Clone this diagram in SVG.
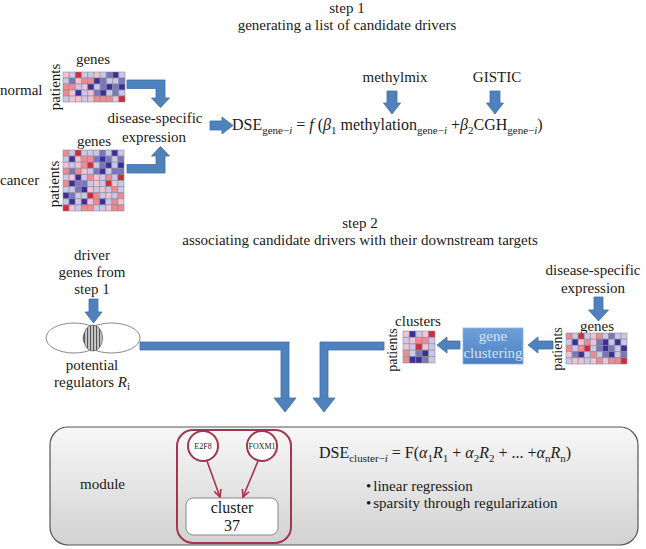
<svg xmlns="http://www.w3.org/2000/svg" width="646" height="549" viewBox="0 0 646 549">
<style>
text{font-family:"Liberation Serif","Times New Roman",serif;fill:#1a1a1a;font-size:15px}
.m{text-anchor:middle}
.eq{font-size:16px}
.sb{font-size:11px}
.it{font-style:italic}
.pt{font-size:14px}
.c0{fill:#3b2e96}.c1{fill:#7876bd}.c2{fill:#cac8e6}.c3{fill:#f3c3d3}.c4{fill:#ee8a90}.c5{fill:#d42a3a}
.hm rect{stroke:#8a8a9a;stroke-width:0.6;vector-effect:non-scaling-stroke}
.ba{fill:#4f81bd;stroke:#3f6fa6;stroke-width:0.8}
.ven{fill:#fff;stroke:#8a8a8a;stroke-width:1}
.mr{stroke:#a3364f;stroke-width:2}
</style>
<defs>
<linearGradient id="gBox" x1="0" y1="0" x2="0" y2="1">
<stop offset="0" stop-color="#f7f7f7"/><stop offset="1" stop-color="#d2d2d2"/>
</linearGradient>
<linearGradient id="gClu" x1="0" y1="0" x2="0" y2="1">
<stop offset="0" stop-color="#6fa0d9"/><stop offset="1" stop-color="#4c80c2"/>
</linearGradient>
<pattern id="stripes" width="3" height="4" patternUnits="userSpaceOnUse">
<rect width="3" height="4" fill="#c8c8c8"/><rect width="1.1" height="4" fill="#555"/>
</pattern>
<marker id="mh" viewBox="0 0 10 10" refX="9" refY="5" markerWidth="9" markerHeight="9" markerUnits="userSpaceOnUse" orient="auto">
<path d="M1,1 L9,5 L1,9" fill="none" stroke="#a3364f" stroke-width="1.8"/>
</marker>
</defs>

<g id="title1">
<text class="m" x="347" y="13">step 1</text>
<text class="m" x="347" y="30">generating a list of candidate drivers</text>
</g>

<g id="normal">
<text x="0" y="95">normal</text>
<text class="m" x="93" y="64">genes</text>
<text class="m" transform="translate(60,87) rotate(-90)">patients</text>
<g class="hm" transform="translate(63,72) scale(6.2,6)">
<rect class="c3" x="0" y="0" width="1" height="1"/><rect class="c2" x="1" y="0" width="1" height="1"/><rect class="c5" x="2" y="0" width="1" height="1"/><rect class="c2" x="3" y="0" width="1" height="1"/><rect class="c2" x="4" y="0" width="1" height="1"/><rect class="c3" x="5" y="0" width="1" height="1"/><rect class="c2" x="6" y="0" width="1" height="1"/><rect class="c1" x="7" y="0" width="1" height="1"/><rect class="c0" x="8" y="0" width="1" height="1"/><rect class="c2" x="9" y="0" width="1" height="1"/>
<rect class="c2" x="0" y="1" width="1" height="1"/><rect class="c1" x="1" y="1" width="1" height="1"/><rect class="c3" x="2" y="1" width="1" height="1"/><rect class="c4" x="3" y="1" width="1" height="1"/><rect class="c4" x="4" y="1" width="1" height="1"/><rect class="c0" x="5" y="1" width="1" height="1"/><rect class="c1" x="6" y="1" width="1" height="1"/><rect class="c2" x="7" y="1" width="1" height="1"/><rect class="c2" x="8" y="1" width="1" height="1"/><rect class="c1" x="9" y="1" width="1" height="1"/>
<rect class="c4" x="0" y="2" width="1" height="1"/><rect class="c4" x="1" y="2" width="1" height="1"/><rect class="c2" x="2" y="2" width="1" height="1"/><rect class="c3" x="3" y="2" width="1" height="1"/><rect class="c0" x="4" y="2" width="1" height="1"/><rect class="c2" x="5" y="2" width="1" height="1"/><rect class="c1" x="6" y="2" width="1" height="1"/><rect class="c0" x="7" y="2" width="1" height="1"/><rect class="c1" x="8" y="2" width="1" height="1"/><rect class="c0" x="9" y="2" width="1" height="1"/>
<rect class="c4" x="0" y="3" width="1" height="1"/><rect class="c3" x="1" y="3" width="1" height="1"/><rect class="c0" x="2" y="3" width="1" height="1"/><rect class="c2" x="3" y="3" width="1" height="1"/><rect class="c3" x="4" y="3" width="1" height="1"/><rect class="c1" x="5" y="3" width="1" height="1"/><rect class="c0" x="6" y="3" width="1" height="1"/><rect class="c2" x="7" y="3" width="1" height="1"/><rect class="c1" x="8" y="3" width="1" height="1"/><rect class="c2" x="9" y="3" width="1" height="1"/>
<rect class="c2" x="0" y="4" width="1" height="1"/><rect class="c3" x="1" y="4" width="1" height="1"/><rect class="c3" x="2" y="4" width="1" height="1"/><rect class="c2" x="3" y="4" width="1" height="1"/><rect class="c3" x="4" y="4" width="1" height="1"/><rect class="c4" x="5" y="4" width="1" height="1"/><rect class="c4" x="6" y="4" width="1" height="1"/><rect class="c4" x="7" y="4" width="1" height="1"/><rect class="c3" x="8" y="4" width="1" height="1"/><rect class="c5" x="9" y="4" width="1" height="1"/>
</g>
</g>

<g id="cancer">
<text x="0" y="185">cancer</text>
<text class="m" x="94" y="146">genes</text>
<text class="m" transform="translate(59,184) rotate(-90)">patients</text>
<g class="hm" transform="translate(63,150) scale(6.1,6.1)">
<rect class="c4" x="0" y="0" width="1" height="1"/><rect class="c2" x="1" y="0" width="1" height="1"/><rect class="c5" x="2" y="0" width="1" height="1"/><rect class="c2" x="3" y="0" width="1" height="1"/><rect class="c2" x="4" y="0" width="1" height="1"/><rect class="c2" x="5" y="0" width="1" height="1"/><rect class="c1" x="6" y="0" width="1" height="1"/><rect class="c2" x="7" y="0" width="1" height="1"/><rect class="c0" x="8" y="0" width="1" height="1"/><rect class="c2" x="9" y="0" width="1" height="1"/>
<rect class="c2" x="0" y="1" width="1" height="1"/><rect class="c0" x="1" y="1" width="1" height="1"/><rect class="c3" x="2" y="1" width="1" height="1"/><rect class="c4" x="3" y="1" width="1" height="1"/><rect class="c4" x="4" y="1" width="1" height="1"/><rect class="c1" x="5" y="1" width="1" height="1"/><rect class="c0" x="6" y="1" width="1" height="1"/><rect class="c1" x="7" y="1" width="1" height="1"/><rect class="c2" x="8" y="1" width="1" height="1"/><rect class="c1" x="9" y="1" width="1" height="1"/>
<rect class="c3" x="0" y="2" width="1" height="1"/><rect class="c2" x="1" y="2" width="1" height="1"/><rect class="c3" x="2" y="2" width="1" height="1"/><rect class="c4" x="3" y="2" width="1" height="1"/><rect class="c5" x="4" y="2" width="1" height="1"/><rect class="c2" x="5" y="2" width="1" height="1"/><rect class="c1" x="6" y="2" width="1" height="1"/><rect class="c0" x="7" y="2" width="1" height="1"/><rect class="c2" x="8" y="2" width="1" height="1"/><rect class="c0" x="9" y="2" width="1" height="1"/>
<rect class="c4" x="0" y="3" width="1" height="1"/><rect class="c1" x="1" y="3" width="1" height="1"/><rect class="c4" x="2" y="3" width="1" height="1"/><rect class="c3" x="3" y="3" width="1" height="1"/><rect class="c2" x="4" y="3" width="1" height="1"/><rect class="c1" x="5" y="3" width="1" height="1"/><rect class="c0" x="6" y="3" width="1" height="1"/><rect class="c2" x="7" y="3" width="1" height="1"/><rect class="c1" x="8" y="3" width="1" height="1"/><rect class="c1" x="9" y="3" width="1" height="1"/>
<rect class="c2" x="0" y="4" width="1" height="1"/><rect class="c3" x="1" y="4" width="1" height="1"/><rect class="c0" x="2" y="4" width="1" height="1"/><rect class="c2" x="3" y="4" width="1" height="1"/><rect class="c4" x="4" y="4" width="1" height="1"/><rect class="c3" x="5" y="4" width="1" height="1"/><rect class="c2" x="6" y="4" width="1" height="1"/><rect class="c4" x="7" y="4" width="1" height="1"/><rect class="c2" x="8" y="4" width="1" height="1"/><rect class="c5" x="9" y="4" width="1" height="1"/>
<rect class="c4" x="0" y="5" width="1" height="1"/><rect class="c0" x="1" y="5" width="1" height="1"/><rect class="c1" x="2" y="5" width="1" height="1"/><rect class="c1" x="3" y="5" width="1" height="1"/><rect class="c2" x="4" y="5" width="1" height="1"/><rect class="c3" x="5" y="5" width="1" height="1"/><rect class="c2" x="6" y="5" width="1" height="1"/><rect class="c5" x="7" y="5" width="1" height="1"/><rect class="c3" x="8" y="5" width="1" height="1"/><rect class="c2" x="9" y="5" width="1" height="1"/>
<rect class="c2" x="0" y="6" width="1" height="1"/><rect class="c2" x="1" y="6" width="1" height="1"/><rect class="c1" x="2" y="6" width="1" height="1"/><rect class="c0" x="3" y="6" width="1" height="1"/><rect class="c3" x="4" y="6" width="1" height="1"/><rect class="c2" x="5" y="6" width="1" height="1"/><rect class="c3" x="6" y="6" width="1" height="1"/><rect class="c2" x="7" y="6" width="1" height="1"/><rect class="c4" x="8" y="6" width="1" height="1"/><rect class="c2" x="9" y="6" width="1" height="1"/>
<rect class="c0" x="0" y="7" width="1" height="1"/><rect class="c1" x="1" y="7" width="1" height="1"/><rect class="c2" x="2" y="7" width="1" height="1"/><rect class="c2" x="3" y="7" width="1" height="1"/><rect class="c5" x="4" y="7" width="1" height="1"/><rect class="c4" x="5" y="7" width="1" height="1"/><rect class="c2" x="6" y="7" width="1" height="1"/><rect class="c3" x="7" y="7" width="1" height="1"/><rect class="c2" x="8" y="7" width="1" height="1"/><rect class="c4" x="9" y="7" width="1" height="1"/>
<rect class="c2" x="0" y="8" width="1" height="1"/><rect class="c0" x="1" y="8" width="1" height="1"/><rect class="c2" x="2" y="8" width="1" height="1"/><rect class="c0" x="3" y="8" width="1" height="1"/><rect class="c3" x="4" y="8" width="1" height="1"/><rect class="c4" x="5" y="8" width="1" height="1"/><rect class="c0" x="6" y="8" width="1" height="1"/><rect class="c2" x="7" y="8" width="1" height="1"/><rect class="c4" x="8" y="8" width="1" height="1"/><rect class="c3" x="9" y="8" width="1" height="1"/>
<rect class="c5" x="0" y="9" width="1" height="1"/><rect class="c3" x="1" y="9" width="1" height="1"/><rect class="c2" x="2" y="9" width="1" height="1"/><rect class="c4" x="3" y="9" width="1" height="1"/><rect class="c4" x="4" y="9" width="1" height="1"/><rect class="c2" x="5" y="9" width="1" height="1"/><rect class="c2" x="6" y="9" width="1" height="1"/><rect class="c3" x="7" y="9" width="1" height="1"/><rect class="c4" x="8" y="9" width="1" height="1"/><rect class="c4" x="9" y="9" width="1" height="1"/>
</g>
</g>

<g id="dse-step1">
<text class="m" x="155" y="123">disease-specific</text>
<text class="m" x="154" y="142">expression</text>
</g>

<g id="methylmix"><text class="m" x="395" y="82">methylmix</text></g>
<g id="gistic"><text class="m" x="497" y="82">GISTIC</text></g>

<g id="equation1">
<text class="eq" x="232" y="130">DSE<tspan class="sb" dy="4">gene−<tspan class="it">i</tspan></tspan><tspan dy="-4"> = </tspan><tspan class="it">f</tspan> (<tspan class="it">β</tspan><tspan class="sb" dy="4">1</tspan><tspan dy="-4"> methylation</tspan><tspan class="sb" dy="4">gene−<tspan class="it">i</tspan></tspan><tspan dy="-4"> +</tspan><tspan class="it">β</tspan><tspan class="sb" dy="4">2</tspan><tspan dy="-4">CGH</tspan><tspan class="sb" dy="4">gene−<tspan class="it">i</tspan></tspan><tspan dy="-4">)</tspan></text>
</g>

<g id="title2">
<text class="m" x="360" y="228">step 2</text>
<text class="m" x="360" y="245">associating candidate drivers with their downstream targets</text>
</g>

<g id="drivers">
<text class="m" x="92" y="260">driver</text>
<text class="m" x="92" y="277">genes from</text>
<text class="m" x="92" y="294">step 1</text>
</g>

<g id="venn">
<ellipse class="ven" cx="74" cy="338" rx="28" ry="15"/>
<ellipse class="ven" cx="111.5" cy="338" rx="28.5" ry="15" style="fill:none"/>
<ellipse cx="93" cy="338" rx="9.5" ry="13" fill="url(#stripes)" stroke="#666" stroke-width="0.8"/>
<text class="m" x="92" y="370">potential</text>
<text class="m" x="92" y="387">regulators <tspan class="it">R</tspan><tspan class="sb" dy="3">i</tspan></text>
</g>

<g id="dse-step2">
<text class="m" x="593" y="275">disease-specific</text>
<text class="m" x="593" y="293">expression</text>
</g>

<g id="genes2">
<text class="m" x="597" y="331">genes</text>
<text class="m pt" transform="translate(562,349) rotate(-90)">patients</text>
<g class="hm" transform="translate(566,333) scale(6.1,6.2)">
<rect class="c4" x="0" y="0" width="1" height="1"/><rect class="c2" x="1" y="0" width="1" height="1"/><rect class="c5" x="2" y="0" width="1" height="1"/><rect class="c2" x="3" y="0" width="1" height="1"/><rect class="c3" x="4" y="0" width="1" height="1"/><rect class="c4" x="5" y="0" width="1" height="1"/><rect class="c2" x="6" y="0" width="1" height="1"/><rect class="c1" x="7" y="0" width="1" height="1"/><rect class="c2" x="8" y="0" width="1" height="1"/><rect class="c2" x="9" y="0" width="1" height="1"/>
<rect class="c2" x="0" y="1" width="1" height="1"/><rect class="c0" x="1" y="1" width="1" height="1"/><rect class="c3" x="2" y="1" width="1" height="1"/><rect class="c4" x="3" y="1" width="1" height="1"/><rect class="c3" x="4" y="1" width="1" height="1"/><rect class="c1" x="5" y="1" width="1" height="1"/><rect class="c0" x="6" y="1" width="1" height="1"/><rect class="c2" x="7" y="1" width="1" height="1"/><rect class="c0" x="8" y="1" width="1" height="1"/><rect class="c2" x="9" y="1" width="1" height="1"/>
<rect class="c4" x="0" y="2" width="1" height="1"/><rect class="c2" x="1" y="2" width="1" height="1"/><rect class="c4" x="2" y="2" width="1" height="1"/><rect class="c5" x="3" y="2" width="1" height="1"/><rect class="c2" x="4" y="2" width="1" height="1"/><rect class="c1" x="5" y="2" width="1" height="1"/><rect class="c0" x="6" y="2" width="1" height="1"/><rect class="c1" x="7" y="2" width="1" height="1"/><rect class="c2" x="8" y="2" width="1" height="1"/><rect class="c0" x="9" y="2" width="1" height="1"/>
<rect class="c3" x="0" y="3" width="1" height="1"/><rect class="c1" x="1" y="3" width="1" height="1"/><rect class="c0" x="2" y="3" width="1" height="1"/><rect class="c2" x="3" y="3" width="1" height="1"/><rect class="c4" x="4" y="3" width="1" height="1"/><rect class="c2" x="5" y="3" width="1" height="1"/><rect class="c1" x="6" y="3" width="1" height="1"/><rect class="c0" x="7" y="3" width="1" height="1"/><rect class="c2" x="8" y="3" width="1" height="1"/><rect class="c1" x="9" y="3" width="1" height="1"/>
<rect class="c2" x="0" y="4" width="1" height="1"/><rect class="c3" x="1" y="4" width="1" height="1"/><rect class="c3" x="2" y="4" width="1" height="1"/><rect class="c2" x="3" y="4" width="1" height="1"/><rect class="c3" x="4" y="4" width="1" height="1"/><rect class="c4" x="5" y="4" width="1" height="1"/><rect class="c3" x="6" y="4" width="1" height="1"/><rect class="c4" x="7" y="4" width="1" height="1"/><rect class="c4" x="8" y="4" width="1" height="1"/><rect class="c5" x="9" y="4" width="1" height="1"/>
</g>
</g>

<g id="gene-clustering">
<rect x="463" y="328" width="60" height="36" fill="url(#gClu)" stroke="#8fb3df" stroke-width="0.8"/>
<text class="m" x="493" y="341" style="fill:#d3e4f7">gene</text>
<text class="m" x="493" y="358" style="fill:#d3e4f7">clustering</text>
</g>

<g id="clusters">
<text class="m" x="418" y="326">clusters</text>
<text class="m pt" transform="translate(397,350) rotate(-90)">patients</text>
<g class="hm" transform="translate(403,331) scale(6.4,6.4)">
<rect class="c3" x="0" y="0" width="1" height="1"/><rect class="c0" x="1" y="0" width="1" height="1"/><rect class="c2" x="2" y="0" width="1" height="1"/><rect class="c3" x="3" y="0" width="1" height="1"/><rect class="c5" x="4" y="0" width="1" height="1"/>
<rect class="c2" x="0" y="1" width="1" height="1"/><rect class="c3" x="1" y="1" width="1" height="1"/><rect class="c4" x="2" y="1" width="1" height="1"/><rect class="c4" x="3" y="1" width="1" height="1"/><rect class="c2" x="4" y="1" width="1" height="1"/>
<rect class="c3" x="0" y="2" width="1" height="1"/><rect class="c2" x="1" y="2" width="1" height="1"/><rect class="c5" x="2" y="2" width="1" height="1"/><rect class="c3" x="3" y="2" width="1" height="1"/><rect class="c2" x="4" y="2" width="1" height="1"/>
<rect class="c4" x="0" y="3" width="1" height="1"/><rect class="c2" x="1" y="3" width="1" height="1"/><rect class="c1" x="2" y="3" width="1" height="1"/><rect class="c0" x="3" y="3" width="1" height="1"/><rect class="c2" x="4" y="3" width="1" height="1"/>
<rect class="c4" x="0" y="4" width="1" height="1"/><rect class="c0" x="1" y="4" width="1" height="1"/><rect class="c0" x="2" y="4" width="1" height="1"/><rect class="c1" x="3" y="4" width="1" height="1"/><rect class="c2" x="4" y="4" width="1" height="1"/>
</g>
</g>

<g id="module">
<rect x="50" y="427" width="588" height="118" rx="18" fill="url(#gBox)" stroke="#555" stroke-width="1.2"/>
<text x="80" y="489">module</text>
<rect class="mr" x="177" y="430" width="114" height="113" rx="16" fill="none"/>
<text class="eq" x="319" y="458">DSE<tspan class="sb" dy="4">cluster−<tspan class="it">i</tspan></tspan><tspan dy="-4"> = F(</tspan><tspan class="it">α</tspan><tspan class="sb" dy="4">1</tspan><tspan class="it" dy="-4">R</tspan><tspan class="sb" dy="4">1</tspan><tspan dy="-4"> + </tspan><tspan class="it">α</tspan><tspan class="sb" dy="4">2</tspan><tspan class="it" dy="-4">R</tspan><tspan class="sb" dy="4">2</tspan><tspan dy="-4"> + ... +</tspan><tspan class="it">α</tspan><tspan class="sb" dy="4">n</tspan><tspan class="it" dy="-4">R</tspan><tspan class="sb" dy="4">n</tspan><tspan dy="-4">)</tspan></text>
<text x="366" y="491">•<tspan dx="2">linear regression</tspan></text>
<text x="366" y="508">•<tspan dx="2">sparsity through regularization</tspan></text>
</g>

<g id="e2f8">
<circle class="mr" cx="203" cy="446" r="15" fill="#fff"/>
<text class="m" x="203" y="449" style="font-size:8px">E2F8</text>
</g>
<g id="foxm1">
<circle class="mr" cx="262" cy="446" r="15" fill="#fff"/>
<text class="m" x="262" y="449" style="font-size:8px">FOXM1</text>
</g>
<g id="cluster37">
<rect x="186" y="498" width="92" height="37" rx="7" fill="#fff" stroke="#888" stroke-width="1"/>
<text class="m eq" x="232" y="513">cluster</text>
<text class="m eq" x="232" y="531">37</text>
</g>

<g id="connectors">
<path class="ba" d="M127,80 H165 V98 H169.5 L160.5,107.5 L151.5,98 H156 V88.5 H127 Z"/>
<path class="ba" d="M127,173 H165 V156 H169.5 L160.5,146.5 L151.5,156 H156 V164.5 H127 Z"/>
<path class="ba" d="M210,121 H222 V117 L233,125.5 L222,134 V130 H210 Z"/>
<path class="ba" d="M387,91 H397 V103 H400.5 L392,114 L383.5,103 H387 Z"/>
<path class="ba" d="M490,91 H500 V103 H503.5 L495,114 L486.5,103 H490 Z"/>
<path class="ba" d="M89,299 H98 V312 H102 L93.5,323 L85,312 H89 Z"/>
<path class="ba" d="M140,342 H289 V398 H296 L285,412 L274,398 H281 V350 H140 Z"/>
<path class="ba" d="M384,342 V350 H328 V398 H335 L324,412 L313,398 H320 V342 Z"/>
<path class="ba" d="M594,297 H603 V310 H608.5 L598.5,321 L588.5,310 H594 Z"/>
<path class="ba" d="M553,341 V349 H538 V353 L528,345 L538,337 V341 Z"/>
<path class="ba" d="M460,341 V349 H447 V353 L437,345 L447,337 V341 Z"/>
<line x1="207" y1="461" x2="220" y2="497" stroke="#a3364f" stroke-width="1.6" marker-end="url(#mh)"/>
<line x1="258" y1="461" x2="243" y2="497" stroke="#a3364f" stroke-width="1.6" marker-end="url(#mh)"/>
</g>
</svg>
